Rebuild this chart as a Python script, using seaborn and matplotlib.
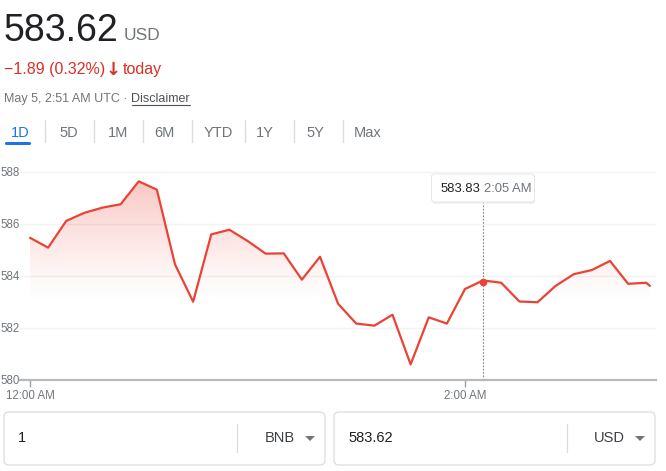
import numpy as np
import matplotlib
matplotlib.use("Agg")
import matplotlib.pyplot as plt
import matplotlib.patches as mpatches
import matplotlib.transforms as mtransforms
import seaborn as sns

# ---- data ----
minutes = [0, 5, 10, 15, 20, 25, 30, 35, 40, 45, 50, 55, 60, 65, 70, 75, 80, 85,
           90, 95, 100, 105, 110, 115, 120, 125, 130, 135, 140, 145, 150, 155,
           160, 165, 170, 171]
prices = [585.47, 585.09, 586.12, 586.43, 586.63, 586.76, 587.64, 587.32, 584.45,
          583.01, 585.60, 585.78, 585.35, 584.86, 584.87, 583.86, 584.74, 582.93,
          582.17, 582.09, 582.51, 580.60, 582.41, 582.17, 583.50, 583.83, 583.74,
          583.02, 582.99, 583.62, 584.07, 584.23, 584.58, 583.70, 583.74, 583.62]
ytick_vals = [580, 582, 584, 586, 588]
xtick_vals = [0, 120]
xtick_labels = ["12:00 AM", "2:00 AM"]
tabs = ["1D", "5D", "1M", "6M", "YTD", "1Y", "5Y", "Max"]
tab_x = [20, 69, 118, 164, 218, 265, 315, 368]
sep_x = [44.5, 93.5, 143, 191.5, 245, 293.5, 342.5]
hover_min, hover_price, hover_time = 125, 583.83, "2:05 AM"

RED = "#ea4335"
GRAY = "#70757a"
DARK = "#202124"
W, H = 666, 471

sns.set_style("white")
plt.rcParams['font.family'] = ['Liberation Sans', 'DejaVu Sans']

fig = plt.figure(figsize=(W / 100, H / 100), dpi=100)
px = mtransforms.IdentityTransform()
renderer = fig.canvas.get_renderer()


def ftxt(x, y, s, **kw):
    # x, y in pixels from top-left
    return fig.text(x / W, 1 - y / H, s, **kw)


def right_edge(t):
    return t.get_window_extent(renderer=renderer).x1


# ---- header ----
big = ftxt(4, 41, "583.62", fontsize=27, color=DARK, va="baseline")
ftxt(right_edge(big) + 5, 40, "USD", fontsize=12.5, color=GRAY, va="baseline")
ftxt(4, 74, "\u22121.89 (0.32%)", fontsize=11.5, color="#d93025", va="baseline")
ftxt(106, 75, "\u2193", fontsize=13, color="#d93025", va="baseline",
     fontweight="bold", family=["DejaVu Sans"])
ftxt(123, 74, "today", fontsize=11.5, color="#d93025", va="baseline")
t = ftxt(4, 102, "May 5, 2:51 AM UTC \u00b7", fontsize=9, color=GRAY, va="baseline")
dx = right_edge(t) + 4
d = ftxt(dx, 102, "Disclaimer", fontsize=9, color="#4d5156", va="baseline")
fig.add_artist(plt.Line2D([dx, right_edge(d)], [H - 104.5, H - 104.5], transform=px,
                          color="#4d5156", lw=0.8))

# tabs
for lab, x in zip(tabs, tab_x):
    ftxt(x, 137, lab, fontsize=10.5, ha="center", va="baseline",
         color="#1a73e8" if lab == "1D" else GRAY)
for x in sep_x:
    fig.add_artist(plt.Line2D([x, x], [H - 120, H - 142], transform=px,
                              color="#dadce0", lw=1))
fig.add_artist(mpatches.FancyBboxPatch((5, H - 145), 26, 3,
                                       boxstyle="round,pad=0,rounding_size=1.5",
                                       transform=px, color="#1a73e8", lw=0))

# ---- chart ----
ax = fig.add_axes([20 / W, 1 - 380 / H, 636 / W, 215 / H])
x0, x1 = (20 - 30) / 3.625, (656 - 30) / 3.625
y0, y1 = 580, 580 + 215 / 26
ax.set_xlim(x0, x1)
ax.set_ylim(y0, y1)

# gradient fill under the line
yy = np.linspace(y1, y0, 200)
alpha = np.clip((yy - 583.0) / (588 - 583.0), 0, 1) ** 1.2 * 0.32
grad = np.zeros((200, 1, 4))
grad[..., 0], grad[..., 1], grad[..., 2] = 0.918, 0.263, 0.208
grad[:, 0, 3] = alpha
im = ax.imshow(grad, extent=[x0, x1, y0, y1], aspect="auto", zorder=1,
               interpolation="bilinear")
verts = [(minutes[0], y0)] + list(zip(minutes, prices)) + [(minutes[-1], y0)]
clip = mpatches.Polygon(verts, closed=True, transform=ax.transData)
im.set_clip_path(clip)

sns.lineplot(x=minutes, y=prices, ax=ax, color=RED, linewidth=1.6, zorder=3)

ax.set_yticks(ytick_vals)
ax.set_yticklabels([str(v) for v in ytick_vals])
ax.set_xticks(xtick_vals)
ax.set_xticklabels(xtick_labels)
ax.tick_params(axis="y", length=0, pad=0, labelsize=8.3, labelcolor=GRAY)
ax.tick_params(axis="x", length=5, width=1, color="#9aa0a6", pad=2,
               labelsize=8.3, labelcolor=GRAY, bottom=True)
ax.grid(axis="y", color="#f1f3f4", lw=1)
ax.grid(axis="x", visible=False)
for s in ["top", "right", "left"]:
    ax.spines[s].set_visible(False)
ax.spines["bottom"].set_color("#b5b8bc")
ax.spines["bottom"].set_linewidth(1.6)
ax.spines["bottom"].set_zorder(4)
ax.set_xlabel("")
ax.set_ylabel("")

# hover line, marker and tooltip
tip_bottom = 588 - (202 - 171) / 26
ax.vlines(hover_min, y0, tip_bottom, colors="#80868b", linestyles=(0, (1.5, 1.5)),
          lw=0.8, zorder=2)
ax.scatter([hover_min], [583.78], s=30, color=RED, zorder=5, linewidths=0)

fig.add_artist(mpatches.FancyBboxPatch((432, H - 203.5), 103, 29,
                                       boxstyle="round,pad=0,rounding_size=3",
                                       transform=px, facecolor="#000000",
                                       alpha=0.08, lw=0, zorder=9))
fig.add_artist(mpatches.FancyBboxPatch((431.5, H - 202), 103, 28,
                                       boxstyle="round,pad=0,rounding_size=3",
                                       transform=px, facecolor="white",
                                       edgecolor="#e3e4e6", lw=0.6, zorder=10))
ftxt(440.5, 192, f"{hover_price:.2f}", fontsize=9.4, color=DARK, va="baseline",
     zorder=11)
ftxt(484, 192, hover_time, fontsize=9.4, color=GRAY, va="baseline", zorder=11)

# ---- converter boxes ----
for bx0, bx1, val, cur, div in [(4, 325, "1", "BNB", 237), (334, 655, "583.62", "USD", 567)]:
    fig.add_artist(mpatches.FancyBboxPatch((bx0, H - 465), bx1 - bx0, 53,
                                           boxstyle="round,pad=0,rounding_size=5",
                                           transform=px, facecolor="white",
                                           edgecolor="#dadce0", lw=0.9))
    fig.add_artist(plt.Line2D([div, div], [H - 424, H - 452], transform=px,
                              color="#dadce0", lw=0.9))
    ftxt(bx0 + 14, 438.5, val, fontsize=10.5, color=DARK, va="center")
    ftxt(bx1 - 30, 438.5, cur, fontsize=10.5, color="#3c4043", va="center", ha="right")
    tx = bx1 - 15
    fig.add_artist(mpatches.Polygon([(tx - 5, H - 436), (tx + 5, H - 436), (tx, H - 441)],
                                    closed=True, transform=px, color=GRAY, lw=0))

fig.savefig("out.png", dpi=100)
